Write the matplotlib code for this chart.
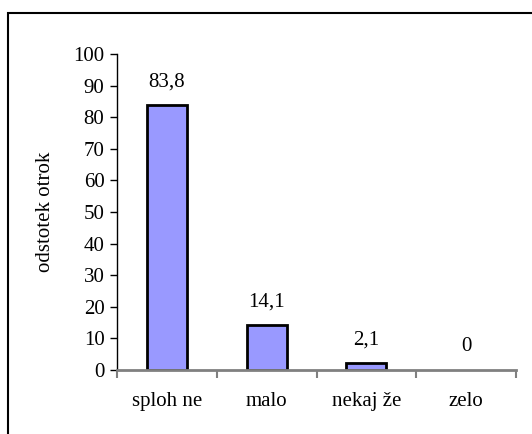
import matplotlib
matplotlib.use('Agg')
import matplotlib.pyplot as plt
from matplotlib.patches import Rectangle
import numpy as np

# podatki
kategorije = ['sploh ne', 'malo', 'nekaj že', 'zelo']
odstotki = [83.8, 14.1, 2.1, 0]
oznake = ['83,8', '14,1', '2,1', '0']
y_ticks = [0, 10, 20, 30, 40, 50, 60, 70, 80, 90, 100]

plt.rcParams['font.family'] = ['Liberation Serif', 'DejaVu Serif']

fig = plt.figure(figsize=(5.32, 4.34), dpi=100)
# okvir okoli grafa (spodaj in desno odrezan)
fig.patches.append(Rectangle((7.5/532, -0.1), 1.2, 1 - 13.5/434 + 0.1,
                             transform=fig.transFigure, fill=False,
                             edgecolor='black', linewidth=1.5))

ax = fig.add_axes([117/532, (434-370)/434, (516-117)/532, (370-54)/434])
x = np.arange(len(kategorije))
bars = ax.bar(x, odstotki, width=0.4, color='#9999FF', edgecolor='black', linewidth=2)
for b, v in zip(bars, odstotki):
    if v == 0:
        b.set_visible(False)

for xi, v, t in zip(x, odstotki, oznake):
    ax.annotate(t, (xi, v), xytext=(0, 17), textcoords='offset points',
                ha='center', va='center', fontsize=15)

ax.set_xlim(-0.5, len(kategorije) - 0.5)
ax.set_ylim(0, 100)
ax.set_yticks(y_ticks)
ax.tick_params(axis='y', labelsize=15, length=5, width=1, direction='out', pad=4)

ax.set_xticks(np.arange(len(kategorije) + 1) - 0.5)
ax.set_xticklabels([])
ax.set_xticks(x, minor=True)
ax.set_xticklabels(kategorije, minor=True)
ax.tick_params(axis='x', which='major', length=6, width=1.5, color='#808080')
ax.tick_params(axis='x', which='minor', length=0, labelsize=15, pad=16)

ax.set_ylabel('odstotek otrok', fontsize=15)
ax.yaxis.set_label_coords(-0.155, 0.5)

for s in ['top', 'right']:
    ax.spines[s].set_visible(False)
ax.spines['bottom'].set_color('#808080')
ax.spines['bottom'].set_linewidth(2)
ax.spines['left'].set_linewidth(1)

fig.savefig('out.png', dpi=100)
